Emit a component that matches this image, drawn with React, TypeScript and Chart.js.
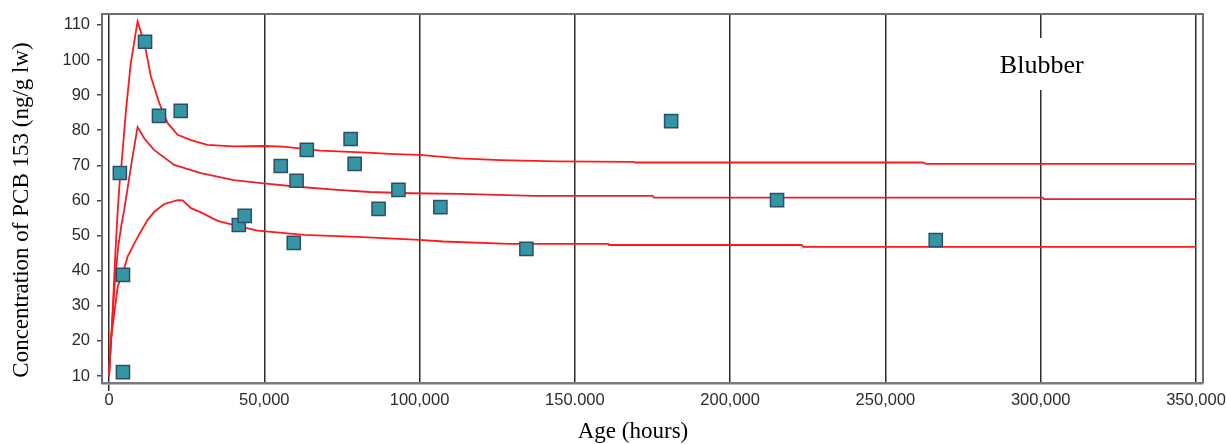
import React, { useEffect, useRef } from "react";
import { Chart, registerables } from "chart.js";

Chart.register(...registerables);

// Measured samples (age in hours, concentration ng/g lw)
const sampleAge = [3500, 4500, 4500, 11600, 16100, 23100, 41800, 43700, 55300, 59500, 60400, 63700, 77800, 79100, 86800, 93200, 106700, 134400, 181000, 215100, 266200];
const sampleConc = [67.8, 38.8, 11.1, 105.2, 84.1, 85.5, 53.0, 55.6, 69.8, 47.9, 65.6, 74.4, 77.5, 70.4, 57.6, 63.0, 58.1, 46.2, 82.6, 60.1, 48.7];

// Upper model curve
const upperAge = [0, 1000, 2000, 2800, 3500, 4000, 5500, 7000, 9200, 11400, 13500, 16200, 18900, 22100, 26400, 31700, 40000, 50000, 56000, 68000, 83000, 92000, 100000, 113000, 126000, 144000, 169000, 169500, 262000, 263000, 350000];
const upperConc = [10, 25, 44, 57, 66, 70, 86, 99, 111, 104.8, 95.3, 87.7, 82, 78.7, 77.2, 75.8, 75.4, 75.5, 75.3, 74.2, 73.6, 73.2, 73.0, 72.0, 71.5, 71.1, 71.0, 70.8, 70.8, 70.4, 70.4];

// Middle model curve
const middleAge = [0, 1000, 2000, 3000, 4000, 4900, 6000, 7500, 9200, 11500, 14500, 21000, 29600, 40200, 49000, 60700, 73600, 84000, 97000, 113000, 137000, 175000, 175500, 300600, 301000, 350000];
const middleConc = [10, 25, 38, 47, 53, 57.3, 63.5, 72, 80.9, 77.5, 74.4, 70.1, 67.8, 65.8, 64.9, 63.9, 63.0, 62.4, 62.05, 61.85, 61.3, 61.3, 60.8, 60.8, 60.4, 60.4];

// Lower model curve
const lowerAge = [0, 600, 2800, 4500, 6000, 8700, 12400, 14600, 17800, 22100, 23700, 26400, 29600, 35000, 40300, 47800, 62800, 80000, 100000, 107700, 129000, 160800, 161000, 223000, 223500, 350000];
const lowerConc = [10, 20.3, 35.4, 39.5, 44, 48.7, 54.4, 56.8, 59, 60.1, 60, 57.8, 56.6, 54.2, 53, 51.4, 50.2, 49.6, 48.75, 48.3, 47.6, 47.6, 47.3, 47.3, 46.8, 46.8];

const xTickValues = [0, 50000, 100000, 150000, 200000, 250000, 300000, 350000];
const xTickLabels = ["0", "50,000", "100,000", "150.000", "200,000", "250,000", "300,000", "350,000"];
const yTickValues = [10, 20, 30, 40, 50, 60, 70, 80, 90, 100, 110];

const yTitle = "Concentration of PCB 153 (ng/g lw)";
const xTitle = "Age (hours)";
const panelLabel = "Blubber";

const toPoints = (xs: number[], ys: number[]) => xs.map((x, i) => ({ x, y: ys[i] }));

const decorPlugin = {
  id: "decor",
  afterDraw(chart: any) {
    const { ctx, chartArea } = chart;
    const xs = chart.scales.x;
    ctx.save();
    // frame top/right
    ctx.strokeStyle = "#6e6e6e";
    ctx.lineWidth = 2;
    ctx.beginPath();
    ctx.moveTo(chartArea.left, chartArea.top);
    ctx.lineTo(chartArea.right, chartArea.top);
    ctx.lineTo(chartArea.right, chartArea.bottom);
    ctx.stroke();
    // panel label with white box
    const lx = xs.getPixelForValue(300000);
    ctx.fillStyle = "#ffffff";
    ctx.fillRect(lx - 46, 38, 92, 52);
    ctx.fillStyle = "#000000";
    ctx.font = "26px 'Liberation Serif', 'Times New Roman', serif";
    ctx.textAlign = "center";
    ctx.textBaseline = "alphabetic";
    ctx.fillText(panelLabel, lx + 1, 73);
    // axis titles
    ctx.font = "23px 'Liberation Serif', 'Times New Roman', serif";
    ctx.textBaseline = "middle";
    ctx.fillText(xTitle, 633, 432);
    ctx.translate(22, 210);
    ctx.rotate(-Math.PI / 2);
    ctx.fillText(yTitle, 0, 0);
    ctx.restore();
  },
};

export default function App() {
  const ref = useRef<HTMLCanvasElement | null>(null);

  useEffect(() => {
    if (!ref.current) return;
    const tickFont = { family: "'Liberation Sans', Arial, sans-serif", size: 16.5 };
    const chart = new Chart(ref.current, {
      type: "scatter",
      data: {
        datasets: [
          {
            label: "samples",
            data: toPoints(sampleAge, sampleConc),
            pointStyle: "rect",
            pointRadius: 9.3,
            pointBackgroundColor: "#3596a3",
            pointBorderColor: "#2a4f6e",
            pointBorderWidth: 1.5,
            showLine: false,
          },
          {
            label: "upper",
            data: toPoints(upperAge, upperConc),
            showLine: true,
            pointRadius: 0,
            borderColor: "#ff1a1a",
            borderWidth: 1.8,
            tension: 0,
          },
          {
            label: "middle",
            data: toPoints(middleAge, middleConc),
            showLine: true,
            pointRadius: 0,
            borderColor: "#e8202a",
            borderWidth: 1.8,
            tension: 0,
          },
          {
            label: "lower",
            data: toPoints(lowerAge, lowerConc),
            showLine: true,
            pointRadius: 0,
            borderColor: "#ff1a1a",
            borderWidth: 1.8,
            tension: 0,
          },
        ],
      },
      options: {
        animation: false,
        responsive: false,
        maintainAspectRatio: false,
        layout: { padding: { top: 14, right: 23, left: 0, bottom: 0 } },
        plugins: { legend: { display: false }, tooltip: { enabled: false }, title: { display: false } },
        scales: {
          x: {
            type: "linear",
            min: -2250,
            max: 352250,
            afterBuildTicks: (scale: any) => {
              scale.ticks = xTickValues.map((v) => ({ value: v }));
            },
            afterFit: (scale: any) => {
              scale.height = 61;
              scale.paddingLeft = 0;
              scale.paddingRight = 0;
            },
            ticks: {
              autoSkip: false,
              maxRotation: 0,
              padding: 0,
              color: "#2b2b2b",
              font: tickFont,
              callback: (value: any) => {
                const i = xTickValues.indexOf(Number(value));
                return i >= 0 ? xTickLabels[i] : "";
              },
            },
            grid: {
              drawOnChartArea: true,
              color: "#2a2a2a",
              lineWidth: 1.5,
              drawTicks: true,
              tickLength: 8,
              tickColor: (ctx: any) => (ctx.index === 0 ? "#2a2a2a" : "rgba(0,0,0,0)"),
            },
            border: { display: true, color: "#7a7a7a", width: 2.5 },
          },
          y: {
            type: "linear",
            min: 8,
            max: 113.1,
            afterBuildTicks: (scale: any) => {
              scale.ticks = yTickValues.map((v) => ({ value: v }));
            },
            afterFit: (scale: any) => {
              scale.width = 102;
              scale.paddingTop = 0;
              scale.paddingBottom = 0;
            },
            ticks: {
              autoSkip: false,
              padding: 7,
              color: "#2b2b2b",
              font: tickFont,
            },
            grid: {
              drawOnChartArea: false,
              drawTicks: true,
              tickLength: 5,
              tickColor: "#444444",
              lineWidth: 1.5,
            },
            border: { display: true, color: "#6e6e6e", width: 2 },
          },
        },
      },
      plugins: [decorPlugin],
    });
    return () => chart.destroy();
  }, []);

  return (
    <div style={{ position: "absolute", left: 0, top: 0, width: 1226, height: 444, background: "#ffffff" }}>
      <canvas ref={ref} width={1226} height={444} style={{ width: 1226, height: 444, display: "block" }} />
    </div>
  );
}
